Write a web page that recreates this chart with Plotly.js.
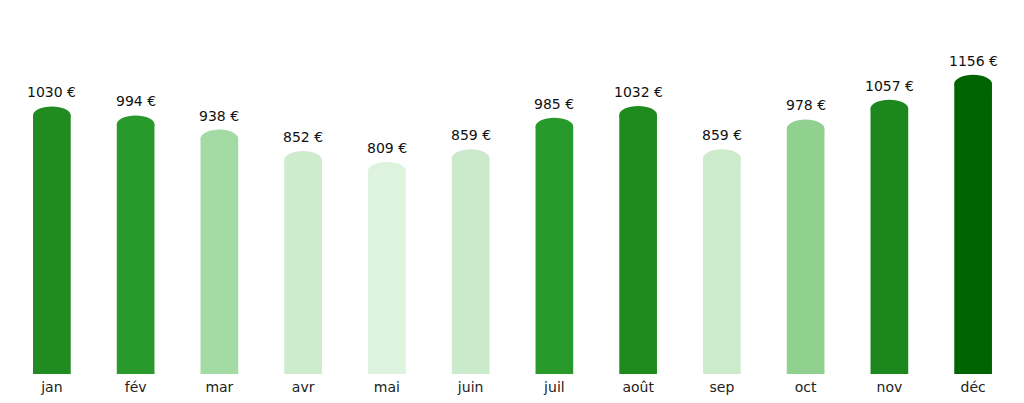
<!DOCTYPE html>
<html>
<head>
<meta charset="utf-8">
<script src="https://cdn.plot.ly/plotly-3.0.1.min.js"></script>
<style>html,body{margin:0;padding:0;background:#fff;}#chart{width:1024px;height:403px;}</style>
</head>
<body>
<div id="chart"></div>
<script>
const months = ["jan","fév","mar","avr","mai","juin","juil","août","sep","oct","nov","déc"];
const values = [1030, 994, 938, 852, 809, 859, 985, 1032, 859, 978, 1057, 1156];
const barColors = ["#208b20","#289a2b","#a4dba4","#cdebcd","#ddf3dd","#cbeacb","#289a2b","#1f8b1f","#ccebcc","#90d190","#1c871c","#006400"];
const labels = values.map(v => v + " €");

const barWidth = 0.45;
const idx = months.map((_, i) => i);

const trace = {
  type: "bar",
  x: idx,
  y: values,
  width: barWidth,
  marker: {color: barColors, line: {width: 0}},
  hoverinfo: "skip"
};

const shapes = idx.map(i => ({
  type: "circle",
  xref: "x", yref: "y",
  xsizemode: "scaled",
  x0: i - barWidth / 2, x1: i + barWidth / 2,
  ysizemode: "pixel",
  yanchor: values[i],
  y0: -9, y1: 9,
  fillcolor: barColors[i],
  line: {width: 0},
  layer: "above"
}));

const annotations = idx.map(i => ({
  x: i, y: values[i], xref: "x", yref: "y",
  text: labels[i], showarrow: false,
  yanchor: "middle", yshift: 23,
  font: {family: "DejaVu Sans", size: 14, color: "#111"}
}));

const layout = {
  width: 1024, height: 403,
  margin: {l: 10, r: 9, t: 10, b: 29},
  paper_bgcolor: "#fff", plot_bgcolor: "#fff",
  showlegend: false,
  xaxis: {
    range: [-0.5, 11.5],
    tickmode: "array", tickvals: idx, ticktext: months,
    showgrid: false, zeroline: false, showline: false, ticks: "",
    ticklabelstandoff: 3,
    tickfont: {family: "DejaVu Sans", size: 14, color: "#222"}
  },
  yaxis: {
    range: [0, 1450], visible: false, showgrid: false, zeroline: false
  },
  shapes: shapes,
  annotations: annotations
};

Plotly.newPlot("chart", [trace], layout, {staticPlot: true, displayModeBar: false});
</script>
</body>
</html>
